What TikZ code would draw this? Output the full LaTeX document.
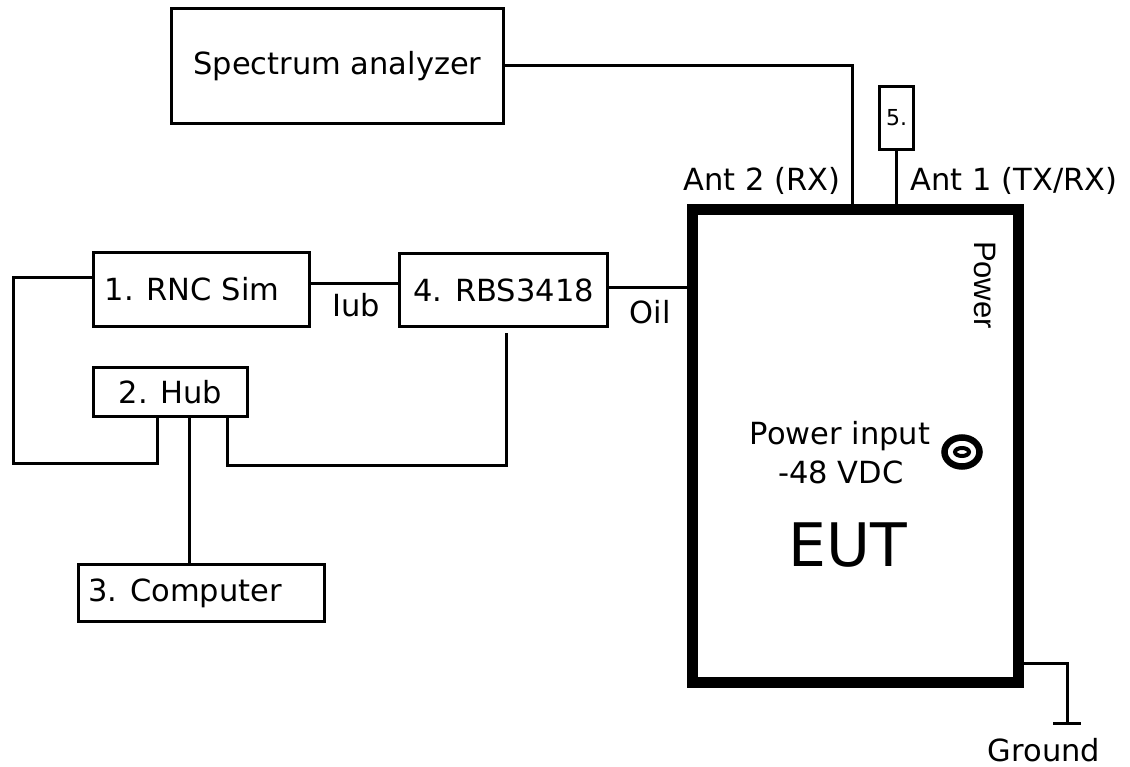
\documentclass[tikz,border=0pt]{standalone}
\usepackage{fontspec}
\setmainfont{DejaVu Sans}
\newfontfamily\arialf{Liberation Sans}
\begin{document}
\begin{tikzpicture}[x=1pt,y=-1pt,
  box/.style={draw,line width=3pt,inner sep=0pt,font=\fontsize{30.5}{36}\selectfont},
  wire/.style={line width=3pt},
  lbl/.style={inner sep=0pt,font=\fontsize{30.5}{36}\selectfont}]
\fill[white] (0,0) rectangle (1130,767);
\useasboundingbox (0,0) rectangle (1130,767);

% boxes
\node[box,minimum width=332pt,minimum height=115pt] (spec) at (337.5,66) {Spectrum analyzer};
\node[box,minimum width=216pt,minimum height=74pt] (rnc) at (201.5,289.5) {1. RNC Sim\hspace*{19pt}};
\node[box,minimum width=208pt,minimum height=73pt] (rbs) at (503.5,290) {4. RBS3418};
\node[box,minimum width=154pt,minimum height=49pt] (hub) at (170.5,392) {2. Hub};
\node[box,minimum width=246pt,minimum height=57pt] (comp) at (201.5,593) {3. Computer\hspace*{33pt}};
\node[box,minimum width=34pt,minimum height=63pt,font=\fontsize{22}{26}\selectfont] (five) at (896.5,118) {5.};
\node[draw,line width=11pt,inner sep=0pt,minimum width=326pt,minimum height=472.5pt] (eut) at (855.5,445.75) {};

% labels
\node[lbl] (iub) at (356,305) {Iub};
\node[lbl] (oil) at (650,312) {Oil};
\node[lbl] (ant2) at (762,181) {Ant 2 (RX)};
\node[lbl] (ant1) at (1014,181) {Ant 1 (TX/RX)};
\node[inner sep=0pt,rotate=-90,font=\arialf\fontsize{31}{36}\selectfont] (power) at (985,285) {Power};
\node[lbl] (pin) at (840,436) {Power input};
\node[lbl] (vdc) at (841,472) {-48 VDC};
\node[inner sep=0pt,font=\fontsize{60}{70}\selectfont] (eutl) at (848,545) {EUT};
\node[lbl] (gnd) at (1044,750) {Ground};

% power connector symbol
\coordinate (ring) at (962,452);
\draw[line width=6.5pt] (ring) ellipse [x radius=17.5pt, y radius=14.5pt];
\draw[line width=4pt] (ring) ellipse [x radius=7pt, y radius=4pt];

% coordinates
\coordinate (a2) at (852,209.5);
\coordinate (L1) at (13,463);
\coordinate (B1) at (506,465);
\coordinate (rbsport) at (506,333);
\coordinate (g1) at (1067,723);

% wires
\draw[wire] (spec.east) -| (a2);
\draw[wire] (five.south) -- (five.south |- eut.north);
\draw[wire] ([yshift=5.5pt]rnc.east) -- ([yshift=6pt]rbs.west);
\draw[wire] ([yshift=2pt]rbs.east) -- ([yshift=2pt]rbs.east -| eut.west);
\draw[wire] ([yshift=11.5pt]rnc.west) -| (L1) -| ([xshift=-13.5pt]hub.south);
\draw[wire] ([xshift=19pt]hub.south) -- ([xshift=19pt]hub.south |- comp.north);
\draw[wire] ([xshift=56.5pt]hub.south) |- (B1) -- (rbsport);
\draw[wire] ([yshift=24.5pt]eut.south east) -| (g1);
\draw[wire] ([xshift=-14pt]g1) -- ([xshift=14pt]g1);
\end{tikzpicture}
\end{document}
